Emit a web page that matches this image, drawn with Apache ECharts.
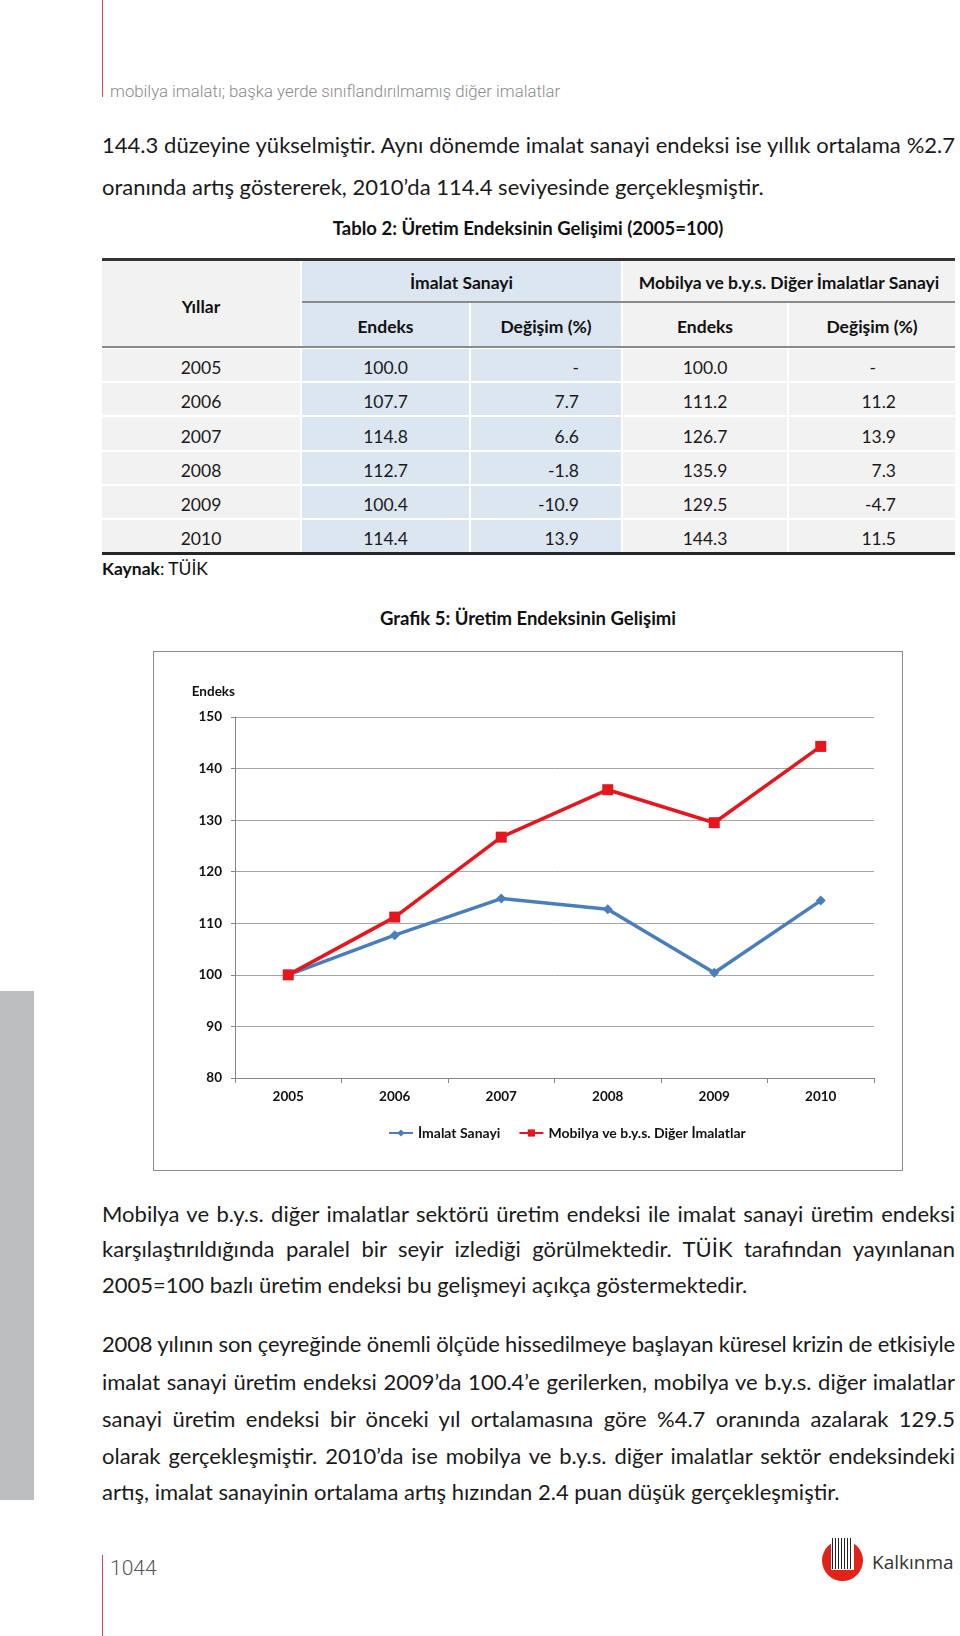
<!DOCTYPE html>
<html><head><meta charset="utf-8">
<script src="https://cdn.jsdelivr.net/npm/echarts@6.0.0/dist/echarts.min.js"></script>
<style>
html,body{margin:0;padding:0;background:#fff;}
body{width:960px;height:1636px;position:relative;overflow:hidden;font-family:Lato,"Open Sans",sans-serif;color:#1a1a1a;}
.abs{position:absolute;}
.line{position:absolute;left:102px;width:853px;font-size:22px;white-space:nowrap;line-height:26px;height:26px;}
.j{text-align:justify;text-align-last:justify;}
.cell{position:absolute;font-size:17.5px;color:#1a1a1a;box-sizing:border-box;}
.hd{font-weight:bold;color:#111;}
</style></head>
<body>
<div class="abs" style="left:102px;top:0;width:1px;height:97px;background:#e0474c;"></div>
<div class="abs" style="left:110px;top:80px;font-family:Roboto,'Liberation Sans',sans-serif;font-weight:300;font-size:16.8px;color:#8a8a8a;line-height:22px;">mobilya imalatı; başka yerde sınıflandırılmamış diğer imalatlar</div>

<div id="text1"></div>

<div class="abs" style="left:0;width:1056px;top:216px;text-align:center;font-weight:bold;font-size:18.5px;line-height:24px;color:#111;">Tablo 2: Üretim Endeksinin Gelişimi (2005=100)</div>
<div id="table"></div>
<div class="abs" style="left:102px;top:557px;font-size:17.5px;line-height:24px;color:#111;"><b>Kaynak</b>: TÜİK</div>

<div class="abs" style="left:0;width:1056px;top:606px;text-align:center;font-weight:bold;font-size:18.5px;line-height:24px;color:#111;">Grafik 5: Üretim Endeksinin Gelişimi</div>
<div id="chart" class="abs" style="left:153px;top:651px;width:750px;height:520px;"></div>
<div class="abs" style="left:153px;top:651px;width:750px;height:520px;box-sizing:border-box;border:1px solid #8c8c8c;pointer-events:none;"></div>

<div id="text2"></div>

<div class="abs" style="left:0;top:991px;width:34px;height:509px;background:#bcbec0;"></div>
<div class="abs" style="left:102px;top:1555px;width:1px;height:81px;background:#e0474c;"></div>
<div class="abs" style="left:110px;top:1555px;font-family:Roboto,'Liberation Sans',sans-serif;font-weight:300;font-size:21px;line-height:26px;color:#555;">1044</div>
<div class="abs" style="left:822px;top:1540px;width:41px;height:41px;border-radius:50%;background:#e2231a;"></div>
<div class="abs" style="left:831px;top:1537px;width:23px;height:33px;background:repeating-linear-gradient(90deg,#222 0 1px,#fff 1px 3px);border:1px solid #fff;box-sizing:border-box;"></div>
<div class="abs" style="left:872px;top:1548px;font-family:'Open Sans',sans-serif;font-size:19px;line-height:28px;color:#333;">Kalkınma</div>

<script>
// ---- data ----
const years = ['2005','2006','2007','2008','2009','2010'];
const imalatEndeks = [100.0, 107.7, 114.8, 112.7, 100.4, 114.4];
const imalatDegisim = ['-', '7.7', '6.6', '-1.8', '-10.9', '13.9'];
const mobilyaEndeks = [100.0, 111.2, 126.7, 135.9, 129.5, 144.3];
const mobilyaDegisim = ['-', '11.2', '13.9', '7.3', '-4.7', '11.5'];
const seriesNames = ['İmalat Sanayi', 'Mobilya ve b.y.s. Diğer İmalatlar'];
const yMin = 80, yMax = 150, yStep = 10;

// ---- body text ----
const para1 = [
  ['144.3 düzeyine yükselmiştir. Aynı dönemde imalat sanayi endeksi ise yıllık ortalama %2.7', 1, 145],
  ['oranında artış göstererek, 2010’da 114.4 seviyesinde gerçekleşmiştir.', 0, 187]
];
const para2 = [
  ['Mobilya ve b.y.s. diğer imalatlar sektörü üretim endeksi ile imalat sanayi üretim endeksi', 1, 1214],
  ['karşılaştırıldığında paralel bir seyir izlediği görülmektedir. TÜİK tarafından yayınlanan', 1, 1249],
  ['2005=100 bazlı üretim endeksi bu gelişmeyi açıkça göstermektedir.', 0, 1285],
  ['2008 yılının son çeyreğinde önemli ölçüde hissedilmeye başlayan küresel krizin de etkisiyle', 1, 1344],
  ['imalat sanayi üretim endeksi 2009’da 100.4’e gerilerken, mobilya ve b.y.s. diğer imalatlar', 1, 1382],
  ['sanayi üretim endeksi bir önceki yıl ortalamasına göre %4.7 oranında azalarak 129.5', 1, 1419],
  ['olarak gerçekleşmiştir. 2010’da ise mobilya ve b.y.s. diğer imalatlar sektör endeksindeki', 1, 1456],
  ['artış, imalat sanayinin ortalama artış hızından 2.4 puan düşük gerçekleşmiştir.', 0, 1492]
];
function renderLines(id, lines){
  const host = document.getElementById(id);
  lines.forEach(([t, j, cy]) => {
    const d = document.createElement('div');
    d.className = 'line' + (j ? ' j' : '');
    d.style.top = (cy - 13) + 'px';
    d.textContent = t;
    host.appendChild(d);
    // shrink spacing if the natural width overflows the column
    if (d.scrollWidth > 853) {
      d.style.letterSpacing = (-(d.scrollWidth - 853) / t.length).toFixed(3) + 'px';
    }
  });
}
renderLines('text1', para1);
renderLines('text2', para2);

// ---- table ----
(function(){
  const host = document.getElementById('table');
  const gray = '#f2f2f2', blue = '#dce6f1';
  const cols = [{x:102,w:198,bg:gray},{x:302,w:167,bg:blue},{x:471,w:150,bg:blue},{x:623,w:164,bg:gray},{x:789,w:166,bg:gray}];
  function box(x,y,w,h,bg,txt,opts){
    const d = document.createElement('div');
    d.className = 'cell' + (opts && opts.hd ? ' hd' : '');
    d.style.left = x+'px'; d.style.top = y+'px'; d.style.width = w+'px'; d.style.height = h+'px';
    if (bg) d.style.background = bg;
    if (txt !== undefined){
      d.textContent = txt;
      d.style.lineHeight = h+'px';
      d.style.textAlign = (opts && opts.align) || 'center';
      if (opts && opts.pr) d.style.paddingRight = opts.pr+'px';
      if (opts && opts.pt) d.style.paddingTop = opts.pt+'px';
    }
    host.appendChild(d);
  }
  box(102,258,853,3,'#333');
  box(102,261,198,85,gray,'Yıllar',{hd:1,pt:3});
  box(302,261,319,40,blue,'İmalat Sanayi',{hd:1,pt:2});
  box(623,261,332,40,gray,'Mobilya ve b.y.s. Diğer İmalatlar Sanayi',{hd:1,pt:2});
  box(302,301,653,2,'#8a8a8a');
  box(302,303,167,43,blue,'Endeks',{hd:1,pt:2});
  box(471,303,150,43,blue,'Değişim (%)',{hd:1,pt:2});
  box(623,303,164,43,gray,'Endeks',{hd:1,pt:2});
  box(789,303,166,43,gray,'Değişim (%)',{hd:1,pt:2});
  box(102,346,853,2,'#8a8a8a');
  const rowH = 34.2, top0 = 349;
  years.forEach((y,i) => {
    const t = Math.round(top0 + rowH*i);
    const b = (i === years.length-1) ? 552 : Math.round(top0 + rowH*(i+1)) - 2;
    const h = b - t;
    const fmt = v => (typeof v === 'number') ? v.toFixed(1) : v;
    box(cols[0].x,t,cols[0].w,h,cols[0].bg,y,{pt:3});
    box(cols[1].x,t,cols[1].w,h,cols[1].bg,fmt(imalatEndeks[i]),{pt:3});
    box(cols[2].x,t,cols[2].w,h,cols[2].bg,imalatDegisim[i],{align:'right',pr:42,pt:3});
    box(cols[3].x,t,cols[3].w,h,cols[3].bg,fmt(mobilyaEndeks[i]),{pt:3});
    box(cols[4].x,t,cols[4].w,h,cols[4].bg,mobilyaDegisim[i],{align:'right',pr:(mobilyaDegisim[i]==='-'?79:59),pt:3});
  });
  box(102,552,853,3,'#262626');
})();

// ---- chart ----
const chart = echarts.init(document.getElementById('chart'), null, {renderer:'canvas'});
const axisGray = '#868686';
chart.setOption({
  animation: false,
  textStyle: {fontFamily: 'Lato, sans-serif'},
  grid: {left: 82, right: 29, top: 66, bottom: 93},
  legend: {
    left: 230, top: 470, itemWidth: 24, itemHeight: 9, itemGap: 18,
    textStyle: {fontWeight: 'bold', fontSize: 14, color: '#111'},
    data: seriesNames
  },
  xAxis: {
    type: 'category', data: years, boundaryGap: true,
    axisLine: {lineStyle: {color: axisGray}},
    axisTick: {show: true, length: 5, lineStyle: {color: axisGray}},
    axisLabel: {color: '#111', fontWeight: 'bold', fontSize: 13.5, margin: 12}
  },
  yAxis: {
    type: 'value', min: yMin, max: yMax, interval: yStep,
    name: 'Endeks', nameLocation: 'end', nameGap: 18,
    nameTextStyle: {align: 'right', fontWeight: 'bold', fontSize: 13.5, color: '#111'},
    axisLine: {show: true, lineStyle: {color: axisGray}},
    axisTick: {show: true, length: 4, lineStyle: {color: axisGray}},
    axisLabel: {color: '#111', fontWeight: 'bold', fontSize: 13.5, margin: 13},
    splitLine: {lineStyle: {color: '#a6a6a6'}}
  },
  series: [
    {name: seriesNames[0], type: 'line', data: imalatEndeks, symbol: 'diamond', symbolSize: 10,
     lineStyle: {width: 3.5, color: '#4a7ebb'}, itemStyle: {color: '#4a7ebb'}},
    {name: seriesNames[1], type: 'line', data: mobilyaEndeks, symbol: 'rect', symbolSize: 11,
     lineStyle: {width: 3.5, color: '#e3171d'}, itemStyle: {color: '#e3171d'}}
  ]
});
</script>
</body></html>
